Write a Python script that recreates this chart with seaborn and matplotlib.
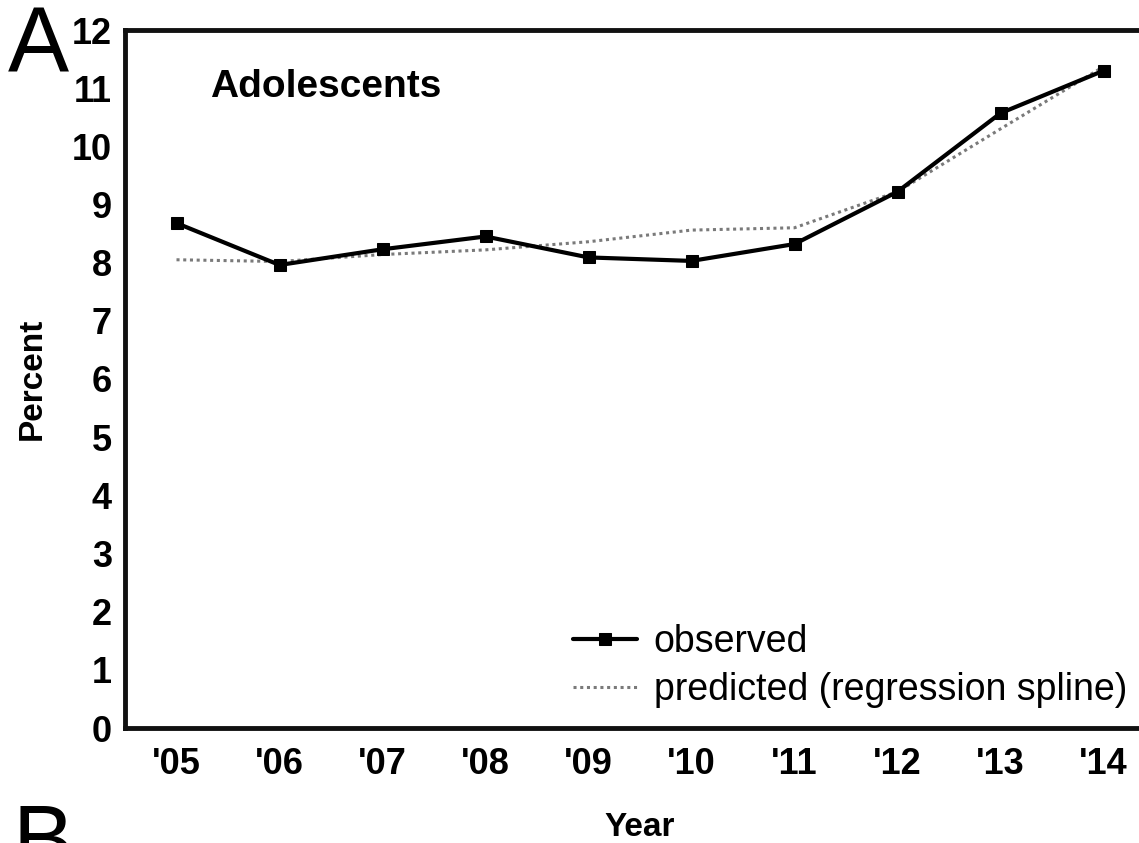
import numpy as np
import pandas as pd
import matplotlib
matplotlib.use("Agg")
import matplotlib.pyplot as plt
import seaborn as sns

# Data
years = [2005, 2006, 2007, 2008, 2009, 2010, 2011, 2012, 2013, 2014]
year_labels = ["'05", "'06", "'07", "'08", "'09", "'10", "'11", "'12", "'13", "'14"]
observed = [8.68, 7.96, 8.23, 8.45, 8.09, 8.03, 8.32, 9.22, 10.57, 11.30]
predicted = [8.05, 8.02, 8.14, 8.22, 8.36, 8.56, 8.60, 9.22, 10.30, 11.37]
y_ticks = list(range(0, 13))

sns.set_theme(style="white")
plt.rcParams["font.family"] = ["Liberation Sans", "DejaVu Sans"]
plt.rcParams["text.color"] = "black"
plt.rcParams["axes.labelcolor"] = "black"

W, H = 1139, 843
fig = plt.figure(figsize=(W / 100, H / 100), dpi=100)

# axes box: left spine x=125, top y=30, bottom y=728, right spine off-canvas
left, right, top, bottom = 125, 1155, 30, 728
ax = fig.add_axes([left / W, (H - bottom) / H, (right - left) / W, (bottom - top) / H])

df = pd.DataFrame({"year": years, "observed": observed, "predicted": predicted})

sns.lineplot(data=df, x="year", y="predicted", ax=ax, color="#7a7a7a",
             linewidth=2.2, linestyle=(0, (1, 1.2)), label="predicted (regression spline)")
sns.lineplot(data=df, x="year", y="observed", ax=ax, color="black",
             linewidth=3.0, marker="s", markersize=9, markeredgecolor="black",
             label="observed")

ax.set_xlim(2004.5, 2014.5)
ax.set_ylim(0, 12)
ax.set_xticks(years)
ax.set_xticklabels(year_labels)
ax.set_yticks(y_ticks)
ax.tick_params(axis="both", length=0, labelsize=26, colors="black")
ax.tick_params(axis="x", pad=14)
ax.tick_params(axis="y", pad=9.5)
for lab in ax.get_xticklabels() + ax.get_yticklabels():
    lab.set_fontweight("bold")

for side in ["left", "bottom", "top"]:
    ax.spines[side].set_linewidth(3.5)
    ax.spines[side].set_color("#111111")
ax.spines["right"].set_visible(False)

ax.set_xlabel("")
ax.set_ylabel("Percent", fontsize=24, fontweight="bold")
ax.yaxis.set_label_coords(-(125 - 48) / (right - left), 0.5)
fig.text(640 / W, (H - 836) / H, "Year", fontsize=24, fontweight="bold",
         ha="center", va="baseline")

fig.text(210 / W, (H - 87) / H, "Adolescents", fontsize=28, fontweight="bold",
         va="center", ha="left")

handles, labels = ax.get_legend_handles_labels()
leg = ax.legend(handles[::-1], labels[::-1], loc="lower left",
                bbox_to_anchor=(573 / W, (H - 708) / H), bbox_transform=fig.transFigure,
                frameon=False, fontsize=27, handlelength=1.7, handletextpad=0.45,
                labelspacing=0.33, borderpad=0, borderaxespad=0)

fig.text(8 / W, (H - 49) / H, "A", fontsize=66, va="center", ha="left")
fig.text(13 / W, (H - 803) / H, "B", fontsize=66, va="top", ha="left")

fig.savefig("out.png", dpi=100)
